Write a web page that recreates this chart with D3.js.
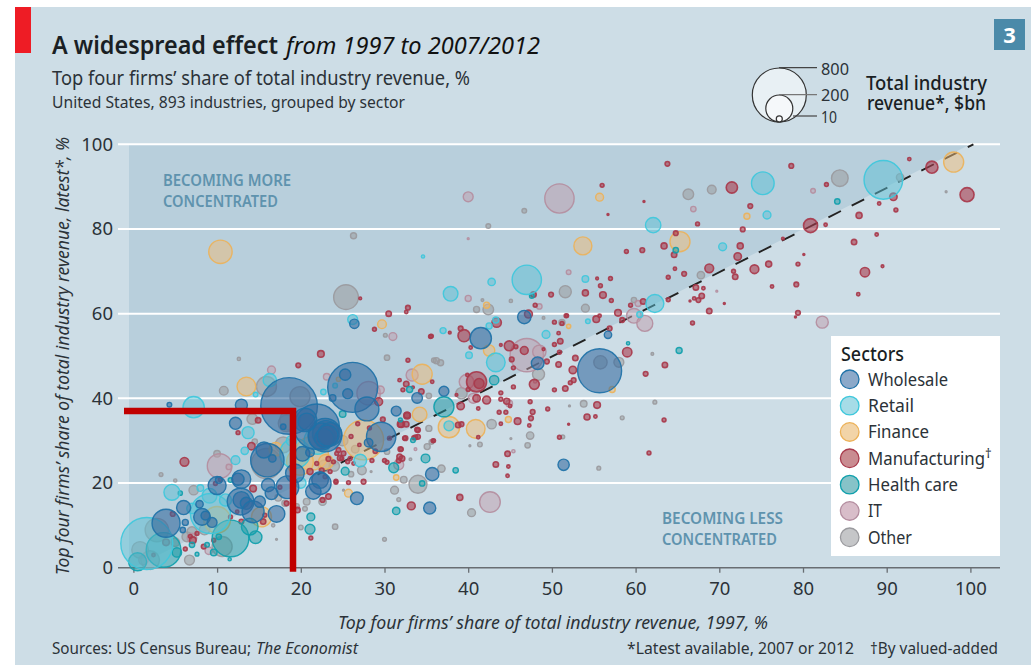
<!DOCTYPE html>
<html><head><meta charset="utf-8">
<script src="https://cdn.jsdelivr.net/npm/d3@7/dist/d3.min.js"></script>
<style>html,body{margin:0;padding:0;background:#fff}svg{display:block}text{font-family:"Noto Sans",sans-serif;fill:#2b3238}</style>
</head><body><div id="c"></div>
<script>
// [1997 share, latest share, revenue $bn]
const other=[[25.4,63.9,167],[26.3,78.4,10],[42.4,80.7,6],[41,61,10],[42.4,61,31],[41.7,63.2,2],[45.1,63,3],[84.4,92,76],[91.6,92.2,15],[69.1,89.3,21],[66.3,88.2,31],[46.7,84.3,6],[51.6,65.2,40],[54,61.3,17],[67.8,69.1,15],[59.8,63.2,8],[49,59,2],[51.2,57.9,10],[97.1,88.8,1],[30.1,54.9,4],[30.3,49.6,8],[36.2,48.9,10],[36.7,48.4,10],[35.9,49,6],[14.2,35.1,31],[15.9,42.8,110],[19.9,40.4,110],[18.3,34.1,76],[48.4,45.7,40],[39.2,41.2,35],[35.3,40.6,8],[53.8,38.7,12],[62.3,39.1,4],[58.4,35.4,4],[47.4,31.2,15],[47.1,28.9,8],[42.8,33.9,24],[41.4,29.1,6],[40.2,28.8,1],[45.1,30.5,1],[35.3,32.9,10],[35.1,28.6,10],[35.6,29.7,6],[33.1,25.6,2],[36.8,23.4,15],[32.3,20.8,12],[34,19.7,89],[31.2,18.3,17],[31.7,16.1,4],[40.4,13,17],[24.1,9.7,8],[30,6.7,4],[27.3,23,21],[26,22.1,8],[28.4,22.7,1],[25.1,18.3,1],[55.6,23.5,4],[52.1,38.2,1],[62,50.5,2],[58,48.5,27],[55.8,48.5,49],[51.3,30.9,4],[30.3,27.4,8],[2,1.8,96],[6.7,1.8,27],[10.6,5,110],[10.8,41.8,21],[7.2,18.3,24],[3.3,22,4],[5,20.6,3],[12.6,49.3,3],[10,26.9,12],[17.9,29,70],[15.9,24.6,247],[17.1,6.7,1],[16.7,10,3],[20,9.5,6],[18.7,34.9,110],[20.7,15.6,12],[22.6,15.6,15],[18.1,15.2,10],[20.5,13.9,6],[2.8,8.9,150],[0.8,4.2,76],[14.5,29.8,8],[6.4,7.3,27],[7,8.5,27],[19.5,14.5,8],[17.3,16.5,12],[24,24,30],[25,30,30],[22.8,24,40],[26.5,28,16],[5,6,20],[8.5,9,30]];
const it=[[50.9,87.2,236],[81.2,89,6],[66.9,84.7,8],[52,69.8,6],[48.5,61.7,8],[59.8,59.5,59],[61.1,57.7,70],[82.3,58,40],[69.7,65.3,1],[60.3,62.4,10],[40,87.6,27],[40,63.6,10],[40,77.7,1],[10.3,24,167],[16.5,46.7,17],[23.1,45.1,12],[11.4,23.8,8],[1.2,1.8,24],[47,50.2,305],[48.5,51,49],[39.8,43.9,59],[28.1,41.2,150],[29.5,42,17],[33.3,45.5,40],[42.6,15.5,117],[31,54.6,17],[40.6,40,27],[44.9,38.8,12],[33.7,28,2],[31.7,24.3,27],[45.4,27.5,3],[7,7,25],[9,4,15],[48,44,3]];
const finance=[[10.4,74.6,150],[29.7,57.5,21],[42.2,62,10],[98,95.8,110],[55.7,87.5,17],[53.7,76,89],[65.3,77,110],[73.3,83,10],[13.5,42.8,96],[10,11.3,195],[15.3,12,110],[27.5,30.2,439],[34.5,45.7,110],[34.2,36.2,59],[21.3,27,305],[19.9,25,195],[37.7,33.2,125],[40.9,32.8,96],[42.5,51.3,35],[25.7,17.6,17],[31.4,21.3,8],[57.2,42.1,10],[44.8,35,10],[17,28,50],[24.5,44.5,5],[23,25,60],[52,57,5]];
const manufacturing=[[63.8,95.4,6],[78.6,94.9,6],[92.7,96.5,3],[95.4,94.6,40],[99.6,88.1,54],[71.5,89.8,35],[56,90.3,4],[61,86.5,1],[56.7,83.4,1],[82.8,90.5,4],[73.7,85.4,6],[90.8,87.6,15],[89.1,86,3],[91.1,84.5,4],[86.7,83.2,10],[80.9,80.8,54],[82.7,81,3],[72.8,79.9,6],[67.4,81.2,4],[64.8,79,6],[77.6,77.7,2],[86.1,76.9,8],[88.8,78.7,3],[80.1,74,1],[72.5,76,10],[72.2,73.5,15],[75.9,71.7,10],[74.2,70.5,21],[79.4,71.7,4],[87.4,69.8,24],[89.5,71.2,2],[68.8,70.7,21],[63.4,76,10],[60.8,75,6],[58.9,74.7,4],[64.6,73.9,8],[64.7,70.6,3],[65.8,69.4,6],[63.9,68.6,4],[71.7,70,4],[71.9,68.7,8],[76.3,66.4,3],[79.2,66.9,6],[86.6,64.6,3],[55.4,68.3,2],[57,68.3,4],[54,64.9,10],[55.8,66.6,4],[56.1,64.4,12],[57.1,63.1,4],[49.9,64.5,6],[47.8,64.5,8],[67.2,66.2,8],[68.1,66,3],[67.9,64.2,8],[67.5,63.2,6],[67,63.6,3],[66.5,63,1],[70.6,62.4,1],[68.8,60.6,8],[63.9,63.3,4],[60.9,62.9,8],[59.4,62,4],[57.9,60.2,12],[79.4,60.2,6],[79.1,59.2,1],[51.8,59.5,3],[50.3,58,4],[48,62,4],[47.2,59.9,17],[55.3,58.7,12],[58.4,58.5,6],[66.8,57.8,4],[56.9,56.5,6],[55.7,59.5,3],[43.4,57.9,24],[39.5,54.8,40],[35.5,54.6,4],[39.1,56.5,6],[37.8,55.5,2],[44.9,52.4,27],[46.7,51.3,17],[45.7,52.2,4],[43.9,52.6,2],[40.3,52,3],[51.7,59.5,4],[51.2,57.7,4],[50.8,55.4,3],[51,53.5,8],[50.3,52.7,4],[49,51.6,2],[50.9,50.9,4],[49.4,48.7,6],[52.8,49.5,8],[50.8,48,8],[52.5,46.7,15],[45.2,49.2,6],[45.4,47.2,4],[41,43.9,110],[41.3,43.5,27],[47.9,43.3,27],[45.4,42.7,4],[43.9,41.3,4],[50.3,42,4],[51.6,42.3,8],[52.2,43.7,4],[52.6,44.3,6],[55.4,38.4,12],[42.2,39.6,17],[41,40,15],[39.1,38.2,15],[43.9,39.8,4],[44.6,39.3,10],[47.4,39.2,4],[45,38.2,3],[49.5,37.5,4],[47.7,36.8,6],[43.7,36.7,4],[44.5,36.7,4],[45.9,34.6,12],[47.5,35.3,6],[54.2,35.6,10],[55.2,35.7,3],[52,33.9,1],[47.3,33.6,3],[43.9,34,3],[32.8,49,4],[31.8,44.3,3],[32.6,43.4,8],[32.2,42,4],[33.4,42.6,2],[35.7,43.9,3],[39.9,45.5,3],[40,42.1,4],[38.6,40.8,2],[41.2,37.6,3],[59,50.9,24],[61.2,45.8,6],[63.5,47.9,8],[63.4,34.9,4],[61.6,27.1,4],[50.9,30.8,4],[44.7,26.9,8],[43.3,24.4,8],[44.8,23.9,3],[44.7,21.7,3],[39,16.6,10],[33.2,14.6,17],[33.9,32.6,6],[34,30.9,6],[33.5,30.7,4],[32.4,30.6,4],[35.9,30,3],[32.7,36,10],[32,33.9,12],[32,28,4],[32.1,25.8,8],[31.7,25.3,6],[30.3,24.9,4],[27.5,20.3,6],[25.7,20.1,4],[24.2,20.2,4],[25.9,25.8,4],[24.9,25.8,4],[26.3,24.6,3],[24.3,27,4],[28.5,25.3,4],[38.8,33.7,8],[39.2,33.9,6],[41.2,30.8,3],[29.3,39.2,17],[22.4,50.5,12],[19.7,47.8,6],[27.1,63.6,2],[30.5,60,8],[32.8,61.4,6],[32.6,60.4,3],[28.8,56.3,4],[35.6,54.7,4],[34.4,41.6,8],[14.9,34.8,8],[14.1,28.7,15],[6.1,25,21],[12.5,31.9,4],[14.3,18.7,12],[23.3,16.8,8],[22.6,16,6],[19.6,13.6,8],[21.2,7,4],[4.7,12.7,6],[6.2,4.4,4],[3.9,6,12],[2.4,3,3],[8.4,5,6],[7.1,6.5,12],[6.8,7.4,4],[7.6,8.1,4],[9.8,19.9,4],[10.4,20.8,4],[12.9,10.9,6],[17.5,19,4],[18.3,15.2,6],[21.1,22.7,10],[22.5,23,6],[23.9,25,4],[24.5,27.8,6],[22.9,21.5,4],[24.2,20.4,4],[23.5,22.7,4],[23.3,25.7,6],[21.9,24.6,4],[15.7,12.4,4],[15.5,10.9,8],[11.6,12,4],[9.6,6.5,4],[12.4,13.2,3],[25.1,27,6],[24.7,25.9,8],[25.6,25,4],[31.9,33.9,10],[32.7,35.9,12],[32.5,30.6,6],[34,32.5,6],[33.7,30.8,6],[31.9,28,6],[31.8,26.2,8],[30,25.3,4],[35.8,30,4],[32.6,33.9,8],[29.8,35,6],[28.2,33,4],[26,31,4],[27,29,3],[28.9,27.5,5],[26.8,34,4],[30.6,30.6,4]];
const healthCare=[[11.6,6.9,369],[3.6,4.2,330],[0.5,1.4,89],[14.6,7.2,44],[21.1,9.1,27],[21.2,12,17],[9.6,3.6,12],[5.2,3.6,24],[11.5,2,3],[7.6,3.2,4],[7,5.4,8],[8.8,5.4,6],[10.2,7.3,8],[5.6,17.6,5],[13.9,9.7,76],[11.6,20.7,6],[37.1,38,110],[34.9,25.8,21],[31.1,23.6,27],[25.3,22.8,17],[31.4,13.4,15],[38.5,23,8],[34.5,19.9,8],[43.1,44.3,24],[33.4,30.1,6],[33,42.1,10],[59.1,53,3],[31.9,34.9,4],[25,36.3,12],[84.1,86.5,8],[64.8,75,8],[47.6,64.2,6],[65.2,51.3,10]];
const retail=[[1.6,5.7,742],[7.2,37.9,125],[4.6,17.8,70],[9.1,17,59],[16.3,44.3,49],[13.7,31.9,40],[13.3,27.6,15],[12.2,25.4,21],[14.6,40.9,6],[9.2,12.8,439],[8,18.8,12],[19.3,27,247],[22.7,41.5,8],[24.1,43,6],[26.2,58.6,27],[27.1,25.3,44],[34.6,73.5,3],[37.7,33.5,27],[43.3,48.5,96],[40.1,50.2,12],[49.3,55.1,17],[37,56,10],[47,68,236],[37.9,64.7,59],[42.8,67.5,15],[54,68.2,12],[54.3,58.2,6],[42.5,57.1,10],[43.3,58.5,10],[89.6,91.6,410],[75.2,90.8,141],[75.7,83.3,17],[70.4,75.8,17],[62.1,80.9,65],[62.3,62.4,89],[60.5,59.8,10],[18.9,30,30],[7,14,30],[11,16,40],[20,20,30],[22,30,200]];
const wholesale=[[18.6,38.2,880],[21.9,33.3,564],[22.9,31.3,305],[23,31.6,195],[22.5,31,200],[23.5,31.5,150],[22.8,30.6,100],[23.2,31.2,120],[20.5,34.9,150],[20.7,34.5,80],[26.2,42.6,686],[27.9,37.5,158],[29.6,30.9,236],[16,25.4,305],[15.6,27.8,70],[16.6,25.8,15],[25.3,45.6,35],[25.6,41.1,27],[23.8,40.1,12],[26.4,57.6,24],[31.4,37,27],[33.9,40.1,31],[20.2,26.9,59],[21.1,27.2,20],[28.1,29.5,20],[17.9,33.3,8],[22.3,20.7,76],[4.3,38.5,6],[12.9,38.4,40],[12.2,34.1,40],[10,19.4,89],[10.2,20.7,12],[12.9,20.9,96],[12.5,20.9,40],[16.1,19.5,49],[16.5,17.6,44],[18.4,19,141],[19.3,22.3,96],[22.3,19.9,133],[21.5,18,65],[12.8,15.6,195],[12.9,16,76],[13.5,15.2,40],[14.3,13.2,133],[15.1,15.6,35],[17.1,12.7,76],[6,14.2,54],[7.9,15,15],[8.2,12,76],[8.6,12.3,21],[9.4,10.7,27],[3.9,10.5,215],[5.9,8.9,8],[6.2,10.7,10],[37.1,41.7,27],[41.5,54.2,125],[48.3,48.3,44],[55.7,46.5,531],[56.7,55,15],[51.4,24.3,35],[35.7,22.1,49],[35.4,14.1,40],[26.7,16.4,44],[46.7,59.2,49]];
const sectorNames=["Wholesale","Retail","Finance","Manufacturing","Health care","IT","Other"];
const sectorData=[wholesale,retail,finance,manufacturing,healthCare,it,other];
const fills=["#33699f","#5cc0d3","#edbc78","#a83c4c","#1f9ba5","#bf9dac","#9b9c9f"];
const strokes=["#1f72a8","#3ec8dc","#ecb25a","#a83a4c","#0fa0ac","#b48ea0","#9a9a9e"];
const legendFills=["#8ca9c9","#a6dce7","#f2d4a8","#c98c91","#86c3c8","#d8bdc9","#c5c6c8"];
const fillOpacity=[0.58,0.5,0.5,0.6,0.5,0.5,0.55];
const drawOrder=[6,5,2,3,4,1,0];
const xTicks=[0,10,20,30,40,50,60,70,80,90,100];
const yTicks=[0,20,40,60,80,100];
const sizeKey=[800,200,10];
const diagonal=[22,100];

const W=1031,H=665;
const svg=d3.select("#c").append("svg").attr("width",W).attr("height",H);
const x=d3.scaleLinear().domain([0,100]).range([133.4,970.4]);
const y=d3.scaleLinear().domain([0,100]).range([567.7,144.3]);
const r=d3.scaleSqrt().domain([0,800]).range([0,27]);

function txt(s,tx,ty,size,len,o={}){
  const t=svg.append("text").attr("x",tx).attr("y",ty).attr("font-size",size).text(s);
  if(len){t.attr("textLength",len).attr("lengthAdjust","spacingAndGlyphs");}
  if(o.bold)t.attr("font-weight",o.bold===true?700:o.bold);
  if(o.italic)t.attr("font-style","italic");
  if(o.fill)t.style("fill",o.fill);
  if(o.anchor)t.attr("text-anchor",o.anchor);
  if(o.transform)t.attr("transform",o.transform);
  return t;
}

svg.append("rect").attr("x",15).attr("y",7).attr("width",W-15).attr("height",H-7).attr("fill","#cddde6");
svg.append("rect").attr("x",15).attr("y",7).attr("width",16).attr("height",46).attr("fill","#ee1c25");
svg.append("rect").attr("x",994).attr("y",19).attr("width",31).attr("height",31).attr("fill","#4b8aa9");
txt("3",1009.5,43,22,null,{bold:true,fill:"#fff",anchor:"middle"});

txt("A widespread effect",52,54,25,226,{bold:600,fill:"#1a1f24"});
txt("from 1997 to 2007/2012",286,54,23,254,{italic:true,fill:"#111"});
txt("Top four firms’ share of total industry revenue, %",52,85,19.5,418,{fill:"#2b3238"});
txt("United States, 893 industries, grouped by sector",52,108,16,353,{fill:"#2b3238"});

// shaded triangle above the diagonal
const shade=d3.line()([[129,144.3],[x(100),y(100)],[x(0),y(0)],[129,y(0)]]);
svg.append("path").attr("d",shade+"Z").attr("fill","#b8cfdc");

// grid
svg.append("g").selectAll("line").data(yTicks.filter(d=>d>0)).join("line")
 .attr("x1",118).attr("x2",1000).attr("y1",d=>y(d)).attr("y2",d=>y(d))
 .attr("stroke","#fff").attr("stroke-width",2);

// axes
const gx=svg.append("g").attr("transform",`translate(0,${y(0)})`)
 .call(d3.axisBottom(x).tickValues(xTicks).tickSize(5).tickPadding(9).tickFormat(d3.format("d")));
gx.select(".domain").remove();
gx.selectAll("line").attr("stroke","#686d72").attr("stroke-width",1.3);
gx.selectAll("text").attr("font-size",18.5).attr("font-family","'Noto Sans',sans-serif").style("fill","#2b3238");
svg.append("line").attr("x1",118).attr("x2",1000).attr("y1",y(0)).attr("y2",y(0)).attr("stroke","#686d72").attr("stroke-width",1.6);
const gy=svg.append("g").attr("transform","translate(113,0)")
 .call(d3.axisLeft(y).tickValues(yTicks).tickSize(0).tickPadding(0).tickFormat(d3.format("d")));
gy.select(".domain").remove();
gy.selectAll("text").attr("font-size",18.5).attr("font-family","'Noto Sans',sans-serif").style("fill","#2b3238");

// diagonal
svg.append("line").attr("x1",x(diagonal[0])).attr("y1",y(diagonal[0])).attr("x2",x(diagonal[1])+3).attr("y2",y(diagonal[1]))
 .attr("stroke","#222").attr("stroke-width",1.9).attr("stroke-dasharray","14 12");

// bubbles
drawOrder.forEach(i=>{
  svg.append("g").selectAll("circle").data(sectorData[i]).join("circle")
   .attr("cx",d=>x(d[0])).attr("cy",d=>y(d[1])).attr("r",d=>r(d[2]))
   .attr("fill",fills[i]).attr("fill-opacity",fillOpacity[i])
   .attr("stroke",strokes[i]).attr("stroke-width",i===3?1.6:1.4).attr("stroke-opacity",0.92);
});

txt("BECOMING MORE",163,186,16,128,{bold:600,fill:"#5f93ae"});
txt("CONCENTRATED",163,206.5,16,115,{bold:600,fill:"#5f93ae"});
txt("BECOMING LESS",662,523.5,16,121,{bold:600,fill:"#5f93ae"});
txt("CONCENTRATED",662,544.5,16,115,{bold:600,fill:"#5f93ae"});

// legend
svg.append("rect").attr("x",831).attr("y",336).attr("width",169).attr("height",220).attr("fill","#fff");
txt("Sectors",841,361,19,63,{bold:500,fill:"#1a1f24"});
const legendWidths=[80,46,61,null,90,14,44];
const ly=d3.scalePoint().domain(sectorNames).range([379.3,537.3]);
sectorNames.forEach((n,i)=>{
  svg.append("circle").attr("cx",849.7).attr("cy",ly(n)).attr("r",9.3).attr("fill",legendFills[i]).attr("stroke",strokes[i]).attr("stroke-width",1.3);
  if(n==="Manufacturing"){
    const t=svg.append("text").attr("x",868).attr("y",ly(n)+6.5).attr("font-size",17.5);
    t.append("tspan").attr("textLength",117).attr("lengthAdjust","spacingAndGlyphs").text(n);
    t.append("tspan").attr("font-size",13).attr("dy",-7).text("†");
  } else txt(n,868,ly(n)+6.5,17.5,legendWidths[i]);
});

// size key
const kx=779.3,kb=122;
sizeKey.forEach(v=>{
  svg.append("circle").attr("cx",kx).attr("cy",kb-r(v)).attr("r",r(v)).attr("fill","#fff").attr("fill-opacity",0.55).attr("stroke","#333").attr("stroke-width",1.2);
});
const keyLineY=[67.7,94.7,116];
const keyLineX=[779,779,793];
const keyTextY=[75,101,123];
sizeKey.forEach((v,i)=>{
  svg.append("line").attr("x1",keyLineX[i]).attr("x2",817).attr("y1",keyLineY[i]).attr("y2",keyLineY[i]).attr("stroke",i===1?"#777":"#444").attr("stroke-width",1.2);
  txt(String(v),821,keyTextY[i],16.5,i===2?16:28);
});
const sizeTitle=svg.append("text").attr("font-size",19).attr("font-weight",500).style("fill","#1a1f24");
sizeTitle.append("tspan").attr("x",866).attr("y",90).attr("textLength",121).attr("lengthAdjust","spacingAndGlyphs").text("Total industry");
sizeTitle.append("tspan").attr("x",867).attr("y",110).attr("textLength",119).attr("lengthAdjust","spacingAndGlyphs").text("revenue*, $bn");

// axis titles, notes
txt("Top four firms’ share of total industry revenue, latest*, %",0,0,18,438,{italic:true,transform:"translate(69,575) rotate(-90)"});
txt("Top four firms’ share of total industry revenue, 1997, %",338,629,17.5,430,{italic:true});
txt("Sources: US Census Bureau;",52,654,16,199);
txt("The Economist",256,654,16,102,{italic:true});
txt("*Latest available, 2007 or 2012",627,654,16,227);
txt("†By valued-added",870,654,16,128);

// red guide lines added over the chart
svg.append("path").attr("d",d3.line()([[124,411],[293,411],[293,571.7]])).attr("fill","none").attr("stroke","#c00000").attr("stroke-width",6.5);
</script></body></html>
